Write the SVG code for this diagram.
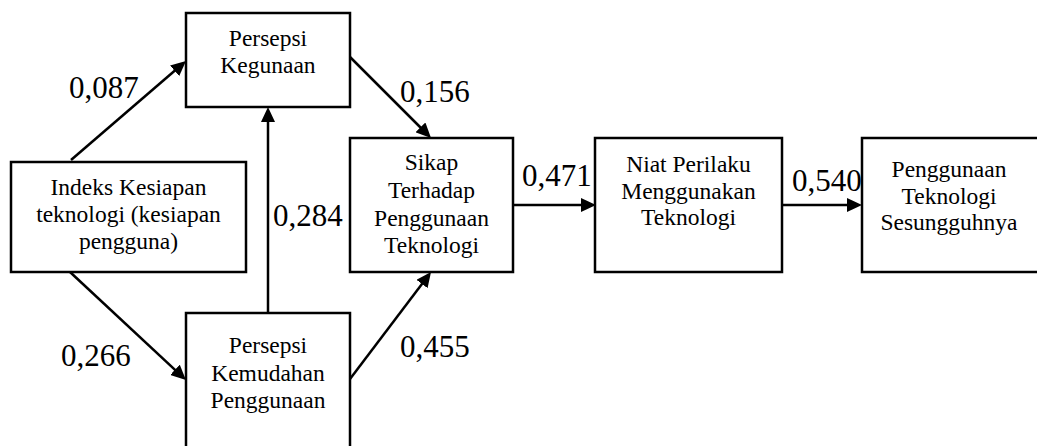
<svg xmlns="http://www.w3.org/2000/svg" width="1037" height="446" viewBox="0 0 1037 446">
<style>
.box{fill:#fff;stroke:#000;stroke-width:2.5}
.nt{font-family:'Liberation Serif','Times New Roman',serif;font-size:23.5px;text-anchor:middle;fill:#000}
.lb{font-family:'Liberation Serif','Times New Roman',serif;font-size:31px;fill:#000}
.cn{stroke:#000;stroke-width:2.5;fill:none;marker-end:url(#ah)}
</style>
<defs>
<marker id="ah" markerUnits="userSpaceOnUse" markerWidth="15" markerHeight="14" refX="10" refY="7" orient="auto">
<path d="M0,0 L15,7 L0,14 z" fill="#000"/>
</marker>
</defs>
<rect width="1037" height="446" fill="#fff"/>
<g id="connectors">
<line class="cn" x1="71" y1="160" x2="182.2" y2="64.3"/>
<line class="cn" x1="70" y1="272" x2="182.3" y2="376.6"/>
<line class="cn" x1="268" y1="313" x2="268" y2="112"/>
<line class="cn" x1="350" y1="57" x2="427.5" y2="134.5"/>
<line class="cn" x1="350" y1="379" x2="428" y2="276"/>
<line class="cn" x1="513" y1="205" x2="591" y2="205"/>
<line class="cn" x1="782" y1="205" x2="857" y2="205"/>
</g>
<g id="labels">
<text class="lb" x="69" y="98">0,087</text>
<text class="lb" x="61" y="366">0,266</text>
<text class="lb" x="273" y="226">0,284</text>
<text class="lb" x="400" y="102">0,156</text>
<text class="lb" x="400" y="357">0,455</text>
<text class="lb" x="522" y="186">0,471</text>
<text class="lb" x="792" y="191">0,540</text>
</g>
<g id="node-kegunaan">
<rect class="box" x="186" y="13" width="164" height="94"/>
<text class="nt" x="268" y="46">Persepsi</text>
<text class="nt" x="268" y="73">Kegunaan</text>
</g>
<g id="node-indeks">
<rect class="box" x="11" y="162" width="235" height="110"/>
<text class="nt" x="128.5" y="195">Indeks Kesiapan</text>
<text class="nt" x="128.5" y="222">teknologi (kesiapan</text>
<text class="nt" x="128.5" y="249">pengguna)</text>
</g>
<g id="node-kemudahan">
<rect class="box" x="186" y="313" width="164" height="140"/>
<text class="nt" x="268" y="353">Persepsi</text>
<text class="nt" x="268" y="381">Kemudahan</text>
<text class="nt" x="268" y="408">Penggunaan</text>
</g>
<g id="node-sikap">
<rect class="box" x="350" y="138" width="163" height="134"/>
<text class="nt" x="431.5" y="170">Sikap</text>
<text class="nt" x="431.5" y="198">Terhadap</text>
<text class="nt" x="431.5" y="226">Penggunaan</text>
<text class="nt" x="431.5" y="253">Teknologi</text>
</g>
<g id="node-niat">
<rect class="box" x="595" y="138" width="187" height="134"/>
<text class="nt" x="688.5" y="171.5">Niat Perilaku</text>
<text class="nt" x="688.5" y="198.5">Menggunakan</text>
<text class="nt" x="688.5" y="225">Teknologi</text>
</g>
<g id="node-penggunaan">
<rect class="box" x="862" y="138" width="180" height="134"/>
<text class="nt" x="949" y="177">Penggunaan</text>
<text class="nt" x="949" y="203.5">Teknologi</text>
<text class="nt" x="949" y="230">Sesungguhnya</text>
</g>
</svg>
